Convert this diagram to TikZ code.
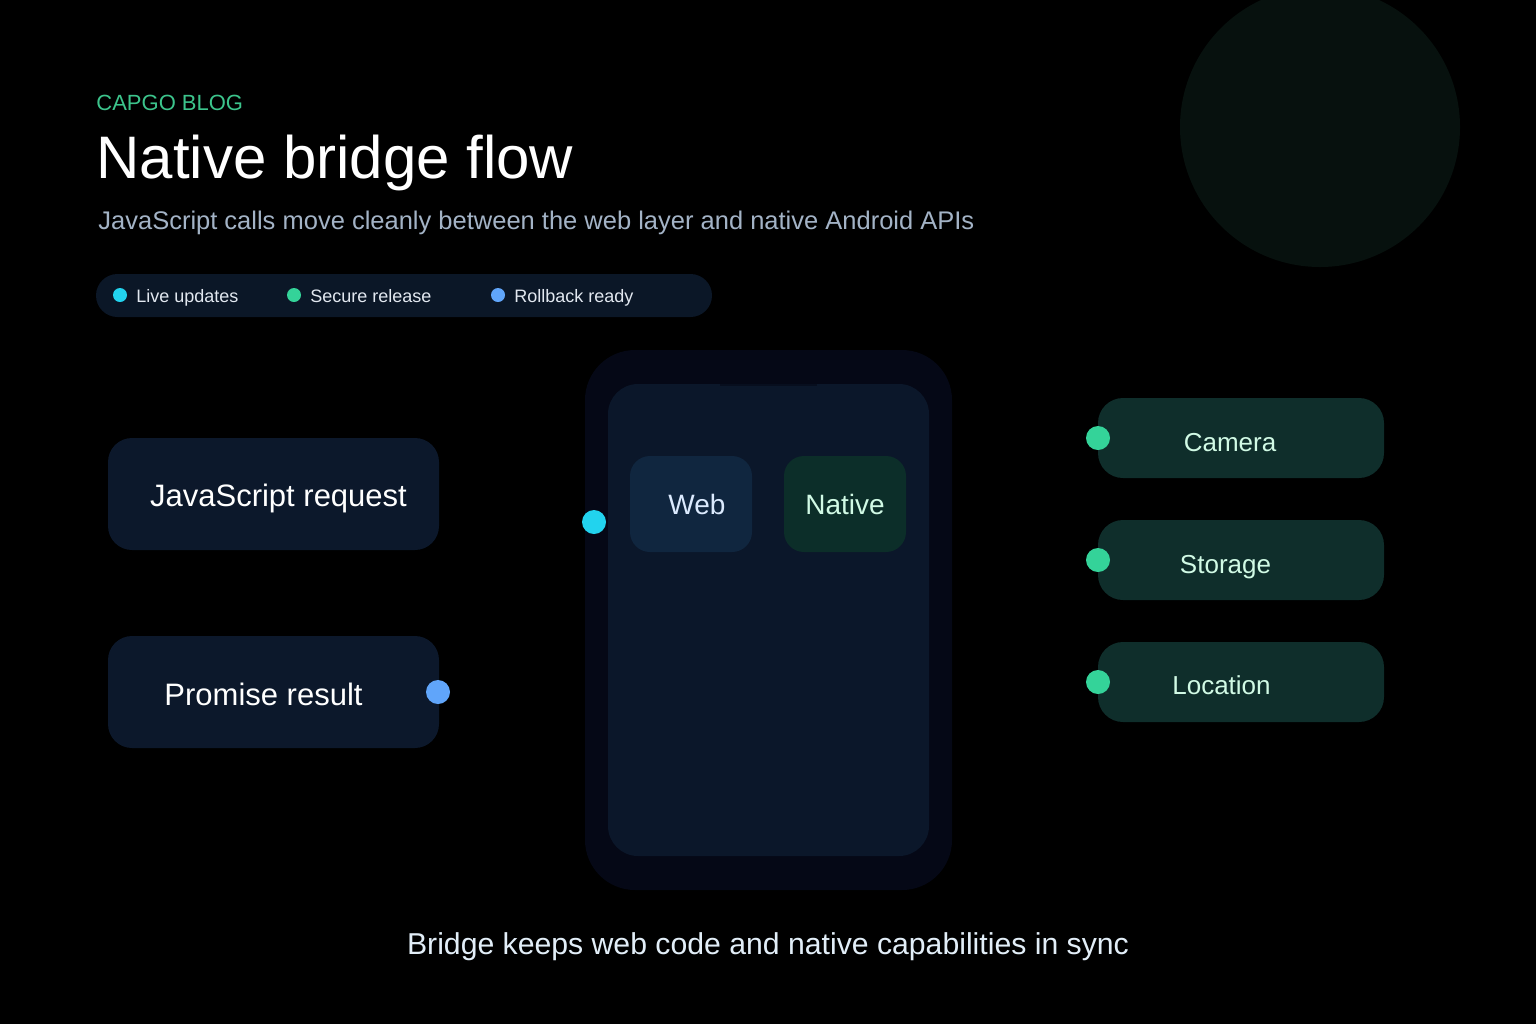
\documentclass[tikz,border=0pt]{standalone}
\usepackage{fontspec}
\setmainfont{Liberation Sans}
\usepackage{xcolor}
\usepackage{tikz}
\usetikzlibrary{shapes.geometric, positioning, calc}

\definecolor{glowbg}{HTML}{07110E}
\definecolor{kickergreen}{HTML}{3CC48C}
\definecolor{subgrey}{HTML}{A3B3C6}
\definecolor{pillbg}{HTML}{0B1727}
\definecolor{pilltext}{HTML}{E2E8F0}
\definecolor{footertext}{HTML}{E2EEF8}
\definecolor{dotcyan}{HTML}{22D3EE}
\definecolor{dotgreen}{HTML}{34D399}
\definecolor{dotblue}{HTML}{60A5FA}
\definecolor{panelbg}{HTML}{0C182B}
\definecolor{phoneframe}{HTML}{050816}
\definecolor{screenbg}{HTML}{0B172A}
\definecolor{webbg}{HTML}{10263F}
\definecolor{nativebg}{HTML}{0C2E29}
\definecolor{apibg}{HTML}{0F2E2B}
\definecolor{minttext}{HTML}{D1FAE5}
\definecolor{webtext}{HTML}{DBEAFE}

\begin{document}
\begin{tikzpicture}[
  x=0.5pt, y=-0.5pt,
  panel/.style={rectangle, rounded corners=12pt, fill=panelbg, minimum width=165.5pt, minimum height=56pt},
  paneltext/.style={anchor=base, inner sep=0pt, text=white, font=\fontsize{15.5}{18}\selectfont},
  chip/.style={rectangle, rounded corners=10pt, minimum width=61pt, minimum height=48pt},
  chiptext/.style={anchor=base, inner sep=0pt, font=\fontsize{14}{17}\selectfont},
  apibox/.style={rectangle, rounded corners=12.5pt, fill=apibg, minimum width=143pt, minimum height=40pt},
  apitext/.style={anchor=base, inner sep=0pt, text=minttext, font=\fontsize{13}{16}\selectfont},
  bigdot/.style={circle, inner sep=0pt, minimum size=12pt},
  smalldot/.style={circle, inner sep=0pt, minimum size=7pt},
  pilllabel/.style={anchor=base west, inner sep=0pt, text=pilltext, font=\fontsize{9}{11}\selectfont}
]

% canvas
\fill[black] (0,0) rectangle (1536,1024);
\useasboundingbox (0,0) rectangle (1536,1024);
\node[circle, fill=glowbg, minimum size=140pt, inner sep=0pt] (glow) at (1320,127) {};

% heading
\node[anchor=base west, inner sep=0pt, text=kickergreen, font=\fontsize{11}{13}\selectfont] (kicker) at (96,110) {CAPGO BLOG};
\node[anchor=base west, inner sep=0pt, text=white, font=\fontsize{30}{36}\selectfont] (title) at (96,178) {Native bridge flow};
\node[anchor=base west, inner sep=0pt, text=subgrey, font=\fontsize{12.75}{15}\selectfont] (subtitle) at (98,229) {JavaScript calls move cleanly between the web layer and native Android APIs};

% legend pill
\node[rectangle, rounded corners=10.75pt, fill=pillbg, minimum width=308pt, minimum height=21.5pt] (legend) at (404,295.5) {};
\node[smalldot, fill=dotcyan] (dotlive) at (120,295) {};
\node[pilllabel] (live) at (136,302) {Live updates};
\node[smalldot, fill=dotgreen] (dotsecure) at (294,295) {};
\node[pilllabel] (secure) at (310,302) {Secure release};
\node[smalldot, fill=dotblue] (dotrollback) at (498,295) {};
\node[pilllabel] (rollback) at (514,302) {Rollback ready};

% left side
\node[panel] (jsreq) at (273.5,494) {};
\node[paneltext] (jsreqtext) at ($(jsreq.center)+(5,12)$) {JavaScript request};
\node[panel] (promise) at (273.5,692) {};
\node[paneltext] (promisetext) at ($(promise.center)+(-10,13)$) {Promise result};
\node[bigdot, fill=dotblue] (promisedot) at (438,692) {};

% phone
\node[rectangle, rounded corners=25pt, fill=phoneframe, minimum width=183.5pt, minimum height=270pt] (phone) at (768.5,620) {};
\node[rectangle, rounded corners=15pt, fill=screenbg, minimum width=160.5pt, minimum height=236pt] (screen) at (768.5,620) {};
\node[rectangle, fill=phoneframe!60!screenbg, minimum width=48.5pt, minimum height=1pt, inner sep=0pt] (notch) at (768.5,384.5) {};
\node[chip, fill=webbg] (web) at (691,504) {};
\node[chiptext, text=webtext] (webtext) at ($(web.center)+(6,10)$) {Web};
\node[chip, fill=nativebg] (native) at (845,504) {};
\node[chiptext, text=minttext] (nativetext) at ($(native.center)+(0,10)$) {Native};
\node[bigdot, fill=dotcyan] (bridgedot) at (594,522) {};

% native APIs
\node[apibox] (camera) at (1241,438) {};
\node[apitext] (cameratext) at ($(camera.center)+(-11,13)$) {Camera};
\node[apibox] (storage) at (1241,560) {};
\node[apitext] (storagetext) at ($(storage.center)+(-15.5,13)$) {Storage};
\node[apibox] (location) at (1241,682) {};
\node[apitext] (locationtext) at ($(location.center)+(-19.5,12)$) {Location};
\node[bigdot, fill=dotgreen] (cameradot) at (1098,438) {};
\node[bigdot, fill=dotgreen] (storagedot) at (1098,560) {};
\node[bigdot, fill=dotgreen] (locationdot) at (1098,682) {};

% footer
\node[anchor=base, inner sep=0pt, text=footertext, font=\fontsize{15.1}{18}\selectfont] (footer) at (768,954) {Bridge keeps web code and native capabilities in sync};

\end{tikzpicture}
\end{document}
